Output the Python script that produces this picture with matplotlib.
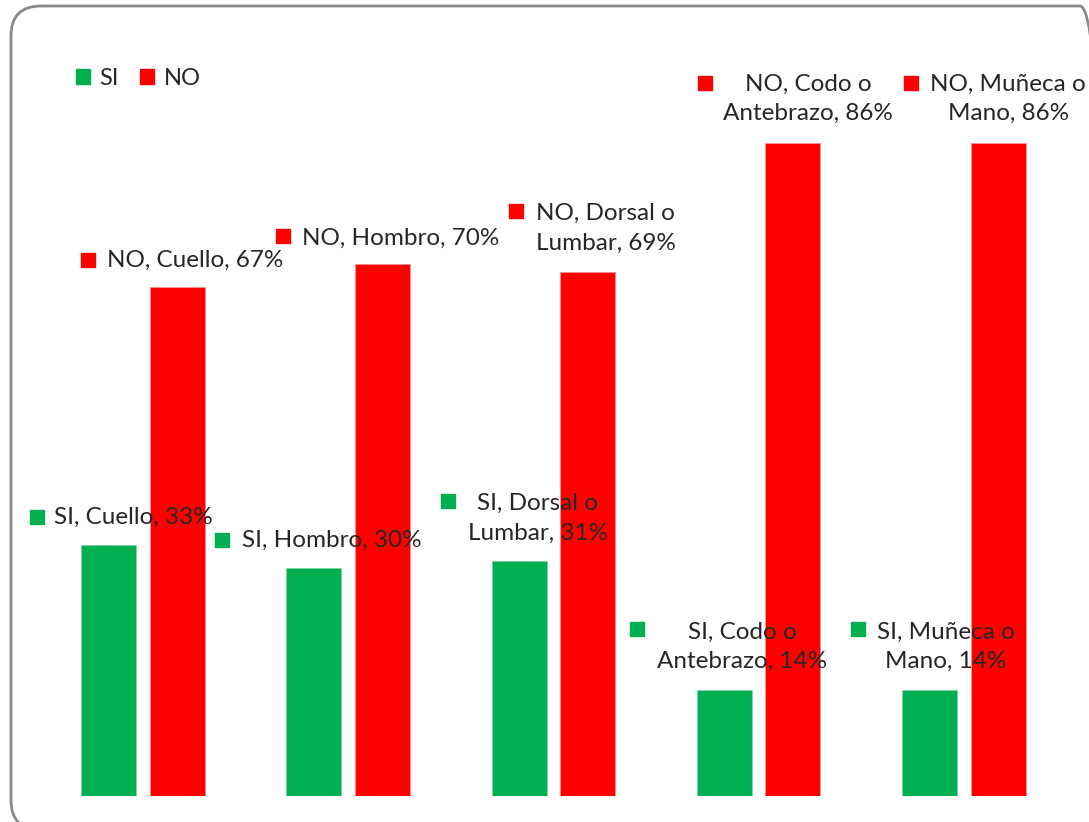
import matplotlib.pyplot as plt
from matplotlib.patches import FancyBboxPatch, Patch
from matplotlib.transforms import offset_copy, IdentityTransform

plt.rcParams['font.family'] = ['Lato', 'DejaVu Sans']

zonas = ['Cuello', 'Hombro', 'Dorsal o\nLumbar', 'Codo o\nAntebrazo', 'Muñeca o\nMano']
si_vals = [33, 30, 31, 14, 14]
no_vals = [67, 70, 69, 86, 86]

verde = '#00B050'
rojo = '#FF0000'
texto = '#262626'

# label placement in pixels relative to the top of each bar: (marker dx, dy, text dx, dy)
si_pos = [(-71.5, 28, 24.5, 28), (-91.5, 28, 18, 28), (-71.5, 60, 18.5, 42.5),
          (-87, 61, 18, 43), (-72, 61, 16.5, 43)]
no_pos = [(-89.5, 27, 18.5, 27), (-99, 28, 18.5, 26), (-72, 61, 18, 43.5),
          (-88, 60, 15, 44), (-87, 60, 10, 44)]
# single-line labels for the first two groups
una_linea = [True, True, False, False, False]

W, H = 1089, 822
fig = plt.figure(figsize=(W / 100, H / 100), dpi=100)

# rounded frame around the chart area (pixel coordinates, origin bottom-left)
marco = FancyBboxPatch((11, H - 830), 1110 - 11, 830 - 6,
                       boxstyle='round,pad=0,rounding_size=30',
                       transform=IdentityTransform(), facecolor='none',
                       edgecolor='#8a8a8a', linewidth=2)
fig.patches.append(marco)

ax = fig.add_axes([40.1 / W, 26 / H, 1026.5 / W, 759.3 / H])
ax.set_xlim(-0.5, 4.5)
ax.set_ylim(0, 100)
ax.axis('off')

x = list(range(len(zonas)))
ancho = 0.268
sep = 0.167
ax.bar([i - sep for i in x], si_vals, ancho, color=verde, edgecolor='#7fd6a6', linewidth=0.6)
ax.bar([i + sep for i in x], no_vals, ancho, color=rojo, edgecolor='#ff9090', linewidth=0.6)


def etiqueta(xc, val, serie, zona, pos, color, simple):
    mdx, mdy, tdx, tdy = pos
    tm = offset_copy(ax.transData, fig=fig, x=mdx, y=mdy, units='dots')
    ax.plot([xc], [val], marker='s', markersize=10.5, color=color,
            transform=tm, clip_on=False)
    nombre = zona.replace('\n', ' ') if simple else zona
    partes = nombre.split('\n')
    if len(partes) == 2:
        s = f'{serie}, {partes[0]}\n{partes[1]}, {val}%'
    else:
        s = f'{serie}, {nombre}, {val}%'
    tt = offset_copy(ax.transData, fig=fig, x=tdx, y=tdy, units='dots')
    ax.text(xc, val, s, transform=tt, ha='center', va='center',
            multialignment='center', fontsize=17.5, color=texto,
            linespacing=1.5, clip_on=False)


for i in x:
    etiqueta(i - sep, si_vals[i], 'SI', zonas[i], si_pos[i], verde, una_linea[i])
    etiqueta(i + sep, no_vals[i], 'NO', zonas[i], no_pos[i], rojo, una_linea[i])

handles = [Patch(color=verde, label='SI'), Patch(color=rojo, label='NO')]
fig.legend(handles=handles, loc='upper left', bbox_to_anchor=(64 / W, 1 - 56 / H),
           ncol=2, frameon=False, fontsize=17, handlelength=0.6, handleheight=0.6,
           handletextpad=0.4, columnspacing=0.9, borderpad=0, labelcolor=texto)

fig.savefig('out.png', dpi=100)
